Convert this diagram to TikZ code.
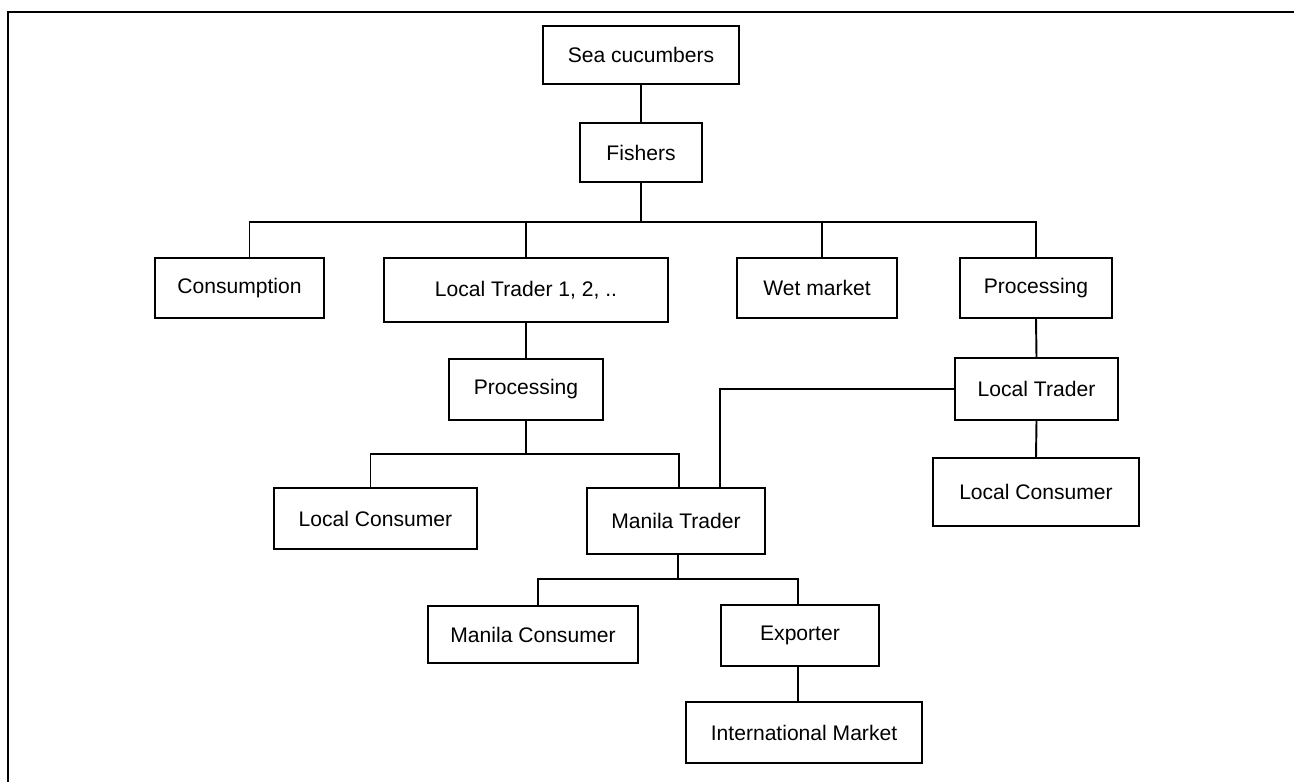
\documentclass[tikz,border=0pt]{standalone}
\usepackage{fontspec}
\setmainfont{Liberation Sans}
\usepackage{tikz}
\tikzset{
    box/.style={draw,line width=1.1pt,inner sep=0pt,font=\fontsize{12}{14}\selectfont},
    link/.style={line width=1.1pt}
}

\begin{document}
\begin{tikzpicture}[x=0.02cm,y=-0.02cm]
            \useasboundingbox (0,0) rectangle (1294,781);
            \draw[link] (8,790) -- (8,12) -- (1300,12);
            % top chain
            \node[box,minimum width=3.92cm,minimum height=1.16cm] (sea) at (641,55) {Sea cucumbers};
            \node[box,minimum width=2.44cm,minimum height=1.18cm] (fish) at (641,152.5) {Fishers};
            % first row
            \node[box,minimum width=3.38cm,minimum height=1.2cm] (cons) at (239.5,288) {Consumption};
            \node[box,minimum width=5.69cm,minimum height=1.28cm] (ltr) at (526,290) {Local Trader 1, 2, ..};
            \node[box,minimum width=3.2cm,minimum height=1.2cm] (wet) at (817,288) {Wet market};
            \node[box,minimum width=3.04cm,minimum height=1.2cm] (proc) at (1036,288) {Processing};
            % second row
            \node[box,minimum width=3.08cm,minimum height=1.22cm] (procm) at (526,389.5) {Processing};
            \node[box,minimum width=3.26cm,minimum height=1.24cm] (ltrr) at (1036.5,389) {Local Trader};
            \node[box,minimum width=4.06cm,minimum height=1.22cm] (lcon) at (375.5,518.5) {Local Consumer};
            \node[box,minimum width=3.56cm,minimum height=1.32cm] (mtr) at (676,521) {Manila Trader};
            \node[box,minimum width=4.12cm,minimum height=1.36cm] (lconr) at (1036,492) {Local Consumer};
            % bottom rows
            \node[box,minimum width=4.2cm,minimum height=1.14cm] (mcon) at (533,634.5) {Manila Consumer};
            \node[box,minimum width=3.16cm,minimum height=1.22cm] (exp) at (800,635.5) {Exporter};
            \node[box,minimum width=4.72cm,minimum height=1.22cm] (intl) at (804,732.5) {International Market};
            % buses
            \coordinate (bus1) at (641,222);
            \coordinate (bus2) at (526,454);
            \coordinate (bus3) at (678,579);
            \draw[link] (sea) -- (fish);
            \draw[link] (fish.south) -- (bus1);
            \draw[link] ([xshift=0.2cm]cons.north) |- (bus1) -| (proc.north);
            \draw[link] (ltr.north) -- (ltr.north |- bus1);
            \draw[link] ([xshift=0.1cm]wet.north) -- ([xshift=0.1cm]wet.north |- bus1);
            \draw[link] (ltr.south) -- (procm.north);
            \draw[link] (proc.south) -- (ltrr.north);
            \draw[link] (procm.south) -- (bus2);
            \draw[link] ([xshift=-0.1cm]lcon.north) |- (bus2) -| ([xshift=0.06cm]mtr.north);
            \draw[link] (ltrr.west) -| ([xshift=0.88cm]mtr.north);
            \draw[link] (ltrr.south) -- (lconr.north);
            \draw[link] ([xshift=0.04cm]mtr.south) -- (bus3);
            \draw[link] ([xshift=0.1cm]mcon.north) |- (bus3) -| ([xshift=-0.04cm]exp.north);
            \draw[link] ([xshift=-0.04cm]exp.south) -- ([xshift=-0.04cm]exp.south |- intl.north);
        \end{tikzpicture}
\end{document}
